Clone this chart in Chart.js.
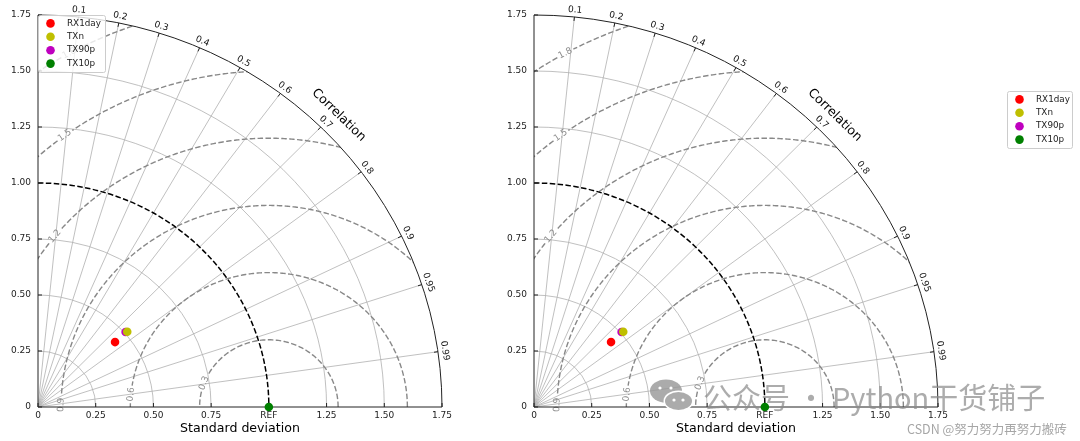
<!DOCTYPE html>
<html>
<head>
<meta charset="utf-8">
<script src="https://cdn.jsdelivr.net/npm/chart.js@4"></script>
<style>
  html, body { margin: 0; padding: 0; background: #fff; }
  #wrap { position: relative; width: 1080px; height: 441px; overflow: hidden; }
  canvas { position: absolute; top: 0; }
</style>
</head>
<body>
<div id="wrap">
  <canvas id="left" width="490" height="441" style="left:0"></canvas>
  <canvas id="right" width="590" height="441" style="left:490px"></canvas>
</div>
<script>
// --- Data ---
const names = ['RX1day', 'TXn', 'TX90p', 'TX10p'];
const stddevs = [0.442, 0.512, 0.506, 1.0];
const corrs = [0.755, 0.755, 0.750, 1.0];
const refStd = 1.0;
const stdTicks = [0, 0.25, 0.5, 0.75, 1.0, 1.25, 1.5, 1.75];
const xTickLabels = ['0', '0.25', '0.50', '0.75', 'REF', '1.25', '1.50', '1.75'];
const yTickLabels = ['0', '0.25', '0.50', '0.75', '1.00', '1.25', '1.50', '1.75'];
const corrTicks = [0.1, 0.2, 0.3, 0.4, 0.5, 0.6, 0.7, 0.8, 0.9, 0.95, 0.99];
const corrTickLabels = ['0.1', '0.2', '0.3', '0.4', '0.5', '0.6', '0.7', '0.8', '0.9', '0.95', '0.99'];
const rmsLevels = [0.3, 0.6, 0.9, 1.2, 1.5, 1.8];
const rmsLabels = ['0.3', '0.6', '0.9', '1.2', '1.5', '1.8'];
const stdGrid = [0.25, 0.5, 0.75, 1.25, 1.5];
const smax = 1.75;

// --- Styles ---
const colors = ['#ff0000', '#bfbf00', '#bf00bf', '#008000'];
const rmsLabelAngles = [159.2, 174.6, 179.4, 140.6, 126.1, 118.7]; // deg, around REF
const FONT = '"DejaVu Sans", sans-serif';

function taylorPlugin(legendBox, watermark) {
    return {
        id: 'taylor',
        beforeDatasetsDraw(chart) {
            const ctx = chart.ctx;
            const xs = chart.scales.x, ys = chart.scales.y;
            const px = v => xs.getPixelForValue(v);
            const py = v => ys.getPixelForValue(v);
            const ox = px(0), oy = py(0);
            const rx = px(smax) - ox, ry = oy - py(smax);
            const kx = rx / smax, ky = ry / smax;

            ctx.save();
            // clip to the quarter disc
            ctx.beginPath();
            ctx.moveTo(ox, oy);
            ctx.lineTo(ox, oy - ry);
            ctx.ellipse(ox, oy, rx, ry, 0, -Math.PI / 2, 0);
            ctx.closePath();
            ctx.clip();

            // std dev grid arcs
            ctx.strokeStyle = '#b0b0b0';
            ctx.lineWidth = 0.8;
            stdGrid.forEach(s => {
                ctx.beginPath();
                ctx.ellipse(ox, oy, s * kx, s * ky, 0, -Math.PI / 2, 0);
                ctx.stroke();
            });
            // correlation rays
            corrTicks.forEach(c => {
                const t = Math.acos(c);
                ctx.beginPath();
                ctx.moveTo(ox, oy);
                ctx.lineTo(px(smax * Math.cos(t)), py(smax * Math.sin(t)));
                ctx.stroke();
            });

            // centred RMS contours
            function arc(r, a0, a1) {
                if (a1 <= a0) return;
                const n = Math.max(4, Math.ceil((a1 - a0) * r * 150));
                ctx.beginPath();
                for (let k = 0; k <= n; k++) {
                    const a = a0 + (a1 - a0) * k / n;
                    const X = px(refStd + r * Math.cos(a)), Y = py(r * Math.sin(a));
                    if (k) ctx.lineTo(X, Y); else ctx.moveTo(X, Y);
                }
                ctx.stroke();
            }
            ctx.strokeStyle = '#888';
            ctx.lineWidth = 1.4;
            ctx.setLineDash([5.5, 2.4]);
            rmsLevels.forEach((r, i) => {
                const la = rmsLabelAngles[i] * Math.PI / 180;
                const gap = 9 / (r * (kx + ky) / 2);
                arc(r, 0, la - gap);
                arc(r, la + gap, Math.PI);
            });

            // reference std arc
            ctx.strokeStyle = '#000';
            ctx.lineWidth = 1.5;
            ctx.beginPath();
            ctx.ellipse(ox, oy, refStd * kx, refStd * ky, 0, -Math.PI / 2, 0);
            ctx.stroke();
            ctx.setLineDash([]);
            ctx.restore();

            ctx.save();
            // contour labels
            ctx.fillStyle = '#8c8c8c';
            ctx.font = '9px ' + FONT;
            ctx.textAlign = 'center';
            ctx.textBaseline = 'middle';
            rmsLevels.forEach((r, i) => {
                const a = rmsLabelAngles[i] * Math.PI / 180;
                const X = px(refStd + r * Math.cos(a)), Y = py(r * Math.sin(a));
                const rot = Math.atan2(Math.cos(a) * ky, Math.sin(a) * kx);
                ctx.save();
                ctx.translate(X, Y);
                ctx.rotate(rot);
                ctx.fillText(rmsLabels[i], 0, 0);
                ctx.restore();
            });

            // outer arc and axes
            ctx.strokeStyle = '#222';
            ctx.lineWidth = 1;
            ctx.beginPath();
            ctx.ellipse(ox, oy, rx, ry, 0, -Math.PI / 2, 0);
            ctx.stroke();
            ctx.beginPath();
            ctx.moveTo(ox, oy - ry);
            ctx.lineTo(ox, oy);
            ctx.lineTo(ox + rx, oy);
            ctx.stroke();

            // inward std ticks on both axes
            stdTicks.forEach(s => {
                ctx.beginPath();
                ctx.moveTo(px(s), oy);
                ctx.lineTo(px(s), oy - 4);
                ctx.moveTo(ox, py(s));
                ctx.lineTo(ox + 4, py(s));
                ctx.stroke();
            });

            // correlation ticks and labels
            ctx.fillStyle = '#111';
            ctx.font = '9px ' + FONT;
            corrTicks.forEach((c, i) => {
                const t = Math.acos(c);
                const X = px(smax * Math.cos(t)), Y = py(smax * Math.sin(t));
                let nx = Math.cos(t) * kx, ny = -Math.sin(t) * ky;
                const len = Math.hypot(nx, ny);
                nx /= len; ny /= len;
                ctx.beginPath();
                ctx.moveTo(X, Y);
                ctx.lineTo(X - nx * 4, Y - ny * 4);
                ctx.stroke();
                const rot = Math.atan2(Math.cos(t) * ky, Math.sin(t) * kx);
                ctx.save();
                ctx.translate(X + nx * 7, Y + ny * 7);
                ctx.rotate(rot);
                ctx.fillText(corrTickLabels[i], 0, 0);
                ctx.restore();
            });

            // axis title along the arc
            const tc = Math.PI / 4;
            const cX = px(smax * Math.cos(tc)), cY = py(smax * Math.sin(tc));
            let nx = Math.cos(tc) * kx, ny = -Math.sin(tc) * ky;
            const ln = Math.hypot(nx, ny);
            ctx.save();
            ctx.translate(cX + nx / ln * 21, cY + ny / ln * 21);
            ctx.rotate(Math.atan2(Math.cos(tc) * ky, Math.sin(tc) * kx));
            ctx.font = '12.6px ' + FONT;
            ctx.fillStyle = '#000';
            ctx.fillText('Correlation', 0, 0);
            ctx.restore();
            ctx.restore();
        },
        afterDraw(chart) {
            const ctx = chart.ctx;
            // legend
            const b = legendBox;
            ctx.save();
            ctx.fillStyle = 'rgba(255,255,255,0.8)';
            ctx.strokeStyle = '#cccccc';
            ctx.lineWidth = 1;
            ctx.beginPath();
            ctx.roundRect(b.x + 0.5, b.y + 0.5, b.w, b.h, 2);
            ctx.fill();
            ctx.stroke();
            ctx.font = '8.8px ' + FONT;
            ctx.textBaseline = 'middle';
            ctx.textAlign = 'left';
            chart.data.datasets.forEach((ds, i) => {
                const yy = b.y + 8.4 + i * 13.4;
                ctx.fillStyle = ds.backgroundColor;
                ctx.beginPath();
                ctx.arc(b.x + 12.5, yy, 4.3, 0, Math.PI * 2);
                ctx.fill();
                ctx.fillStyle = '#222';
                ctx.fillText(ds.label, b.x + 29, yy);
            });
            ctx.restore();

            if (watermark) {
                ctx.save();
                // chat bubbles logo
                ctx.fillStyle = 'rgba(150,150,150,0.8)';
                ctx.beginPath();
                ctx.ellipse(176, 391, 16, 11.5, 0, 0, Math.PI * 2);
                ctx.fill();
                ctx.fillStyle = '#fff';
                ctx.beginPath();
                ctx.ellipse(188.5, 401, 15, 10.5, 0, 0, Math.PI * 2);
                ctx.fill();
                ctx.fillStyle = 'rgba(150,150,150,0.8)';
                ctx.beginPath();
                ctx.ellipse(188.5, 401, 13.5, 9, 0, 0, Math.PI * 2);
                ctx.fill();
                ctx.fillStyle = '#fff';
                [[170, 388], [181, 388], [184, 400], [193, 400]].forEach(p => {
                    ctx.beginPath();
                    ctx.arc(p[0], p[1], 1.6, 0, Math.PI * 2);
                    ctx.fill();
                });
                ctx.font = '29px "Noto Sans CJK SC", sans-serif';
                ctx.fillStyle = 'rgba(140,140,140,0.72)';
                ctx.textBaseline = 'middle';
                ctx.fillText('公众号 · Python干货铺子', 213, 398);
                ctx.font = '12.5px "Noto Sans CJK SC", sans-serif';
                ctx.fillStyle = '#a6a6a6';
                ctx.fillText('CSDN @努力努力再努力搬砖', 417, 429);
                ctx.restore();
            }
        }
    };
}

function makeChart(id, axisLeft, plotRight, legendBox, watermark) {
    const canvas = document.getElementById(id);
    const datasets = names.map((n, i) => {
        const t = Math.acos(corrs[i]);
        return {
            label: n,
            data: [{ x: stddevs[i] * corrs[i], y: stddevs[i] * Math.sin(t) }],
            backgroundColor: colors[i],
            borderWidth: 0,
            pointRadius: 4.3,
            pointHoverRadius: 4.3,
            clip: false
        };
    });
    const tickFont = { family: FONT, size: 9 };
    return new Chart(canvas.getContext('2d'), {
        type: 'scatter',
        data: { datasets: datasets },
        options: {
            responsive: false,
            animation: false,
            devicePixelRatio: 1,
            layout: { padding: { left: 0, top: 15, right: canvas.width - plotRight, bottom: 0 } },
            plugins: { legend: { display: false }, tooltip: { enabled: false } },
            scales: {
                x: {
                    type: 'linear', min: 0, max: smax,
                    afterBuildTicks: s => { s.ticks = stdTicks.map(v => ({ value: v })); },
                    afterFit: s => { s.height = 34; },
                    grid: { display: false, drawTicks: false },
                    border: { display: false },
                    ticks: {
                        font: tickFont, color: '#222', padding: 3, maxRotation: 0, autoSkip: false,
                        callback: (v, i) => xTickLabels[i]
                    },
                    title: {
                        display: true, text: 'Standard deviation', color: '#000',
                        font: { family: FONT, size: 12.6 }, padding: { top: 0, bottom: 5 }
                    }
                },
                y: {
                    type: 'linear', min: 0, max: smax,
                    afterBuildTicks: s => { s.ticks = stdTicks.map(v => ({ value: v })); },
                    afterFit: s => { s.width = axisLeft; },
                    grid: { display: false, drawTicks: false },
                    border: { display: false },
                    ticks: {
                        font: tickFont, color: '#222', padding: 7, autoSkip: false,
                        callback: (v, i) => yTickLabels[i]
                    }
                }
            }
        },
        plugins: [taylorPlugin(legendBox, watermark)]
    });
}

makeChart('left', 38, 442, { x: 38, y: 15, w: 67, h: 57 }, false);
makeChart('right', 44, 448, { x: 517, y: 91, w: 65, h: 57 }, true);
</script>
</body>
</html>
